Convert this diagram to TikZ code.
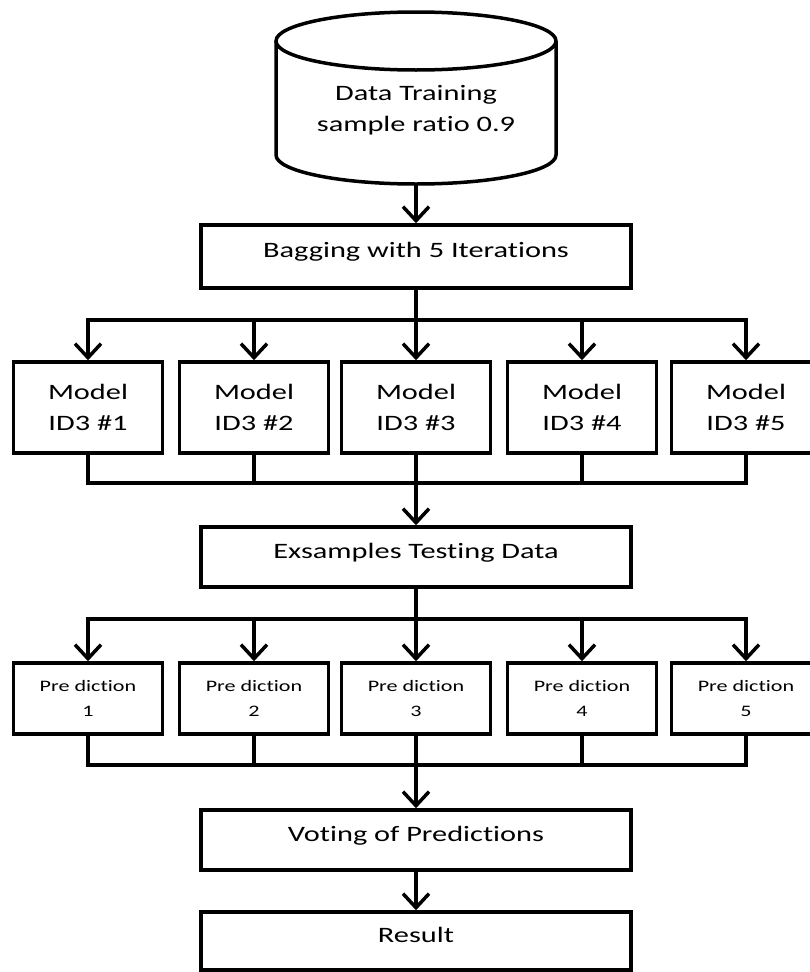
\documentclass[tikz,border=0pt]{standalone}
\usepackage{fontspec}
\setmainfont{Carlito}[FakeStretch=1.38, Ligatures=NoCommon]
\usetikzlibrary{arrows.meta}

\begin{document}
\begin{tikzpicture}[x=1pt, y=-1pt, line width=3.5pt,
  every node/.style={font=\fontsize{22}{31}\selectfont, align=center},
  wide/.style={draw, minimum width=430pt, minimum height=60pt, inner sep=0pt, text height=14pt, text depth=12pt},
  model/.style={draw, minimum width=149pt, minimum height=91pt, inner sep=0pt},
  pred/.style={draw, minimum width=149pt, minimum height=71pt, inner sep=0pt, font=\fontsize{16}{25}\selectfont},
  arr/.style={-{Straight Barb[length=14pt, width=26pt]}}]
  \useasboundingbox (0,0) rectangle (810,972);
  \clip (0,0) rectangle (810,972);
  % data store
  \draw (416,41) ellipse [x radius=140, y radius=29];
  \draw (276,41) -- (276,155) arc[start angle=180, end angle=0, x radius=140, y radius=29] -- (556,41);
  \node (data) at (416,110) {Data Training\\sample ratio 0.9};
  \coordinate (dbot) at (416,184);
  \node[wide, minimum height=63pt] (bag) at (416,256.5) {Bagging with 5 Iterations};
  \draw[arr] (dbot) -- (bag.north);
  % models
  \foreach \x [count=\i] in {88,254,416,582,746}
    \node[model] (m\i) at (\x,407.5) {Model\\ID3 \#\i};
  \coordinate (fork1) at (416,320);
  \coordinate (join1) at (416,483);
  \foreach \i in {1,...,5} {
    \draw[arr] (bag.south) -- (fork1) -| (m\i.north);
    \draw (m\i.south) |- (join1);
  }
  \node[wide] (test) at (416,557) {Exsamples Testing Data};
  \draw[arr] (join1) -- (test.north);
  % predictions
  \foreach \x [count=\i] in {88,254,416,582,746}
    \node[pred] (p\i) at (\x,698.5) {Pre diction\\\i};
  \coordinate (fork2) at (416,619);
  \coordinate (join2) at (416,765);
  \foreach \i in {1,...,5} {
    \draw[arr] (test.south) -- (fork2) -| (p\i.north);
    \draw (p\i.south) |- (join2);
  }
  \node[wide] (vote) at (416,840) {Voting of Predictions};
  \draw[arr] (join2) -- (vote.north);
  \node[wide, minimum height=58pt] (res) at (416,941) {Result};
  \draw[arr] (vote.south) -- (res.north);
\end{tikzpicture}
\end{document}
